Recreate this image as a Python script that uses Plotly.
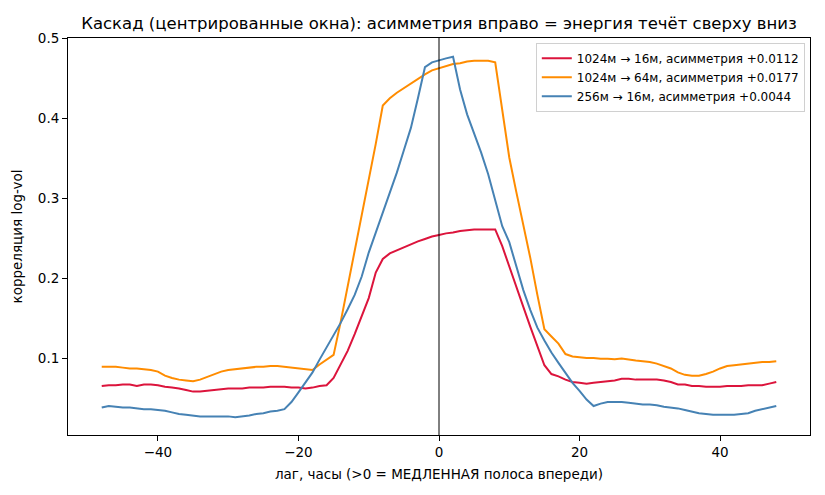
import plotly.graph_objects as go

# lag in hours, -48 .. 48
lags = list(range(-48, 49))

# 1024m -> 16m
corr_1024_16 = [
    0.065, 0.066, 0.066, 0.067, 0.067, 0.065, 0.067, 0.067, 0.066, 0.064,
    0.063, 0.062, 0.060, 0.058, 0.058, 0.059, 0.060, 0.061, 0.062, 0.062,
    0.062, 0.063, 0.063, 0.063, 0.064, 0.064, 0.064, 0.063, 0.063, 0.062,
    0.063, 0.065, 0.066, 0.075, 0.092, 0.109, 0.130, 0.152, 0.175, 0.207,
    0.224, 0.231, 0.235, 0.239, 0.243, 0.246, 0.249, 0.252, 0.254, 0.256,
    0.257, 0.259, 0.260, 0.261, 0.261, 0.261, 0.261, 0.240, 0.214, 0.189,
    0.164, 0.139, 0.115, 0.091, 0.080, 0.077, 0.073, 0.070, 0.069, 0.068,
    0.069, 0.070, 0.071, 0.072, 0.074, 0.074, 0.073, 0.073, 0.073, 0.073,
    0.072, 0.070, 0.067, 0.067, 0.065, 0.065, 0.064, 0.064, 0.064, 0.065,
    0.065, 0.065, 0.066, 0.066, 0.066, 0.068, 0.070,
]

# 1024m -> 64m
corr_1024_64 = [
    0.089, 0.089, 0.089, 0.088, 0.087, 0.087, 0.086, 0.085, 0.083, 0.078,
    0.075, 0.073, 0.072, 0.071, 0.073, 0.076, 0.080, 0.083, 0.085, 0.086,
    0.087, 0.088, 0.089, 0.089, 0.090, 0.090, 0.089, 0.088, 0.087, 0.086,
    0.085, 0.092, 0.098, 0.104, 0.145, 0.190, 0.232, 0.276, 0.320, 0.368,
    0.416, 0.425, 0.432, 0.438, 0.444, 0.450, 0.455, 0.460, 0.463, 0.466,
    0.468, 0.469, 0.471, 0.472, 0.472, 0.472, 0.470, 0.410, 0.351, 0.308,
    0.268, 0.225, 0.179, 0.136, 0.127, 0.118, 0.105, 0.102, 0.101, 0.100,
    0.100, 0.099, 0.099, 0.0985, 0.0995, 0.098, 0.097, 0.096, 0.095, 0.093,
    0.090, 0.087, 0.082, 0.079, 0.078, 0.078, 0.080, 0.083, 0.087, 0.090,
    0.091, 0.092, 0.093, 0.094, 0.095, 0.095, 0.096,
]

# 256m -> 16m
corr_256_16 = [
    0.038, 0.040, 0.039, 0.038, 0.038, 0.037, 0.036, 0.036, 0.035, 0.034,
    0.032, 0.030, 0.029, 0.028, 0.027, 0.027, 0.027, 0.027, 0.027, 0.026,
    0.027, 0.028, 0.030, 0.031, 0.033, 0.034, 0.036, 0.045, 0.057, 0.069,
    0.082, 0.098, 0.113, 0.128, 0.144, 0.161, 0.179, 0.202, 0.232, 0.257,
    0.282, 0.306, 0.332, 0.360, 0.388, 0.425, 0.464, 0.470, 0.473, 0.475,
    0.477, 0.436, 0.405, 0.382, 0.357, 0.330, 0.296, 0.265, 0.245, 0.215,
    0.185, 0.160, 0.138, 0.122, 0.107, 0.094, 0.081, 0.069, 0.059, 0.048,
    0.040, 0.043, 0.045, 0.045, 0.045, 0.044, 0.043, 0.042, 0.042, 0.041,
    0.039, 0.038, 0.037, 0.035, 0.033, 0.031, 0.030, 0.029, 0.029, 0.029,
    0.029, 0.030, 0.031, 0.034, 0.036, 0.038, 0.040,
]

series = [
    ("1024м → 16м, асимметрия +0.0112", corr_1024_16, "#dc143c"),
    ("1024м → 64м, асимметрия +0.0177", corr_1024_64, "#ff8c00"),
    ("256м → 16м, асимметрия +0.0044", corr_256_16, "#4682b4"),
]

x_ticks = [-40, -20, 0, 20, 40]
y_ticks = [0.1, 0.2, 0.3, 0.4, 0.5]

fig = go.Figure()

for name, vals, color in series:
    fig.add_trace(go.Scatter(
        x=lags,
        y=vals,
        mode='lines',
        name=name,
        line=dict(color=color, width=2),
    ))

# zero-lag marker
fig.add_vline(x=0, line=dict(color='black', width=1))

axis_style = dict(
    showline=True,
    linecolor='black',
    linewidth=1,
    mirror=True,
    ticks='outside',
    ticklen=5,
    tickwidth=1,
    tickcolor='black',
    showgrid=False,
    zeroline=False,
    automargin=False,
    tickfont=dict(size=13.5, color='black'),
)

fig.update_layout(
    width=825,
    height=495,
    margin=dict(l=68, r=15, t=38, b=60),
    paper_bgcolor='white',
    plot_bgcolor='white',
    font=dict(family='DejaVu Sans', color='black'),
    title=dict(
        text='Каскад (центрированные окна): асимметрия вправо = энергия течёт сверху вниз',
        x=0.5, xref='paper', xanchor='center',
        y=1 - 23 / 495, yref='container', yanchor='middle',
        font=dict(size=16.5, color='black'),
    ),
    legend=dict(
        x=0.993, y=0.988, xanchor='right', yanchor='top',
        bgcolor='rgba(255,255,255,0.8)',
        bordercolor='#d0d0d0', borderwidth=1,
        font=dict(size=12, color='black'),
        tracegroupgap=0,
        itemwidth=30,
    ),
    showlegend=True,
)

fig.update_xaxes(
    range=[-52.8, 52.8],
    tickvals=x_ticks,
    title=dict(text='лаг, часы (>0 = МЕДЛЕННАЯ полоса впереди)', font=dict(size=13.5), standoff=10),
    **axis_style,
)
fig.update_yaxes(
    range=[0.0037, 0.5005],
    tickvals=y_ticks,
    tickformat='.1f',
    title=dict(text='корреляция log-vol', font=dict(size=13.5), standoff=12),
    **axis_style,
)

fig.write_html(
    "out.html",
    config={'displayModeBar': False},
    post_script="document.body.style.margin='0';",
)
